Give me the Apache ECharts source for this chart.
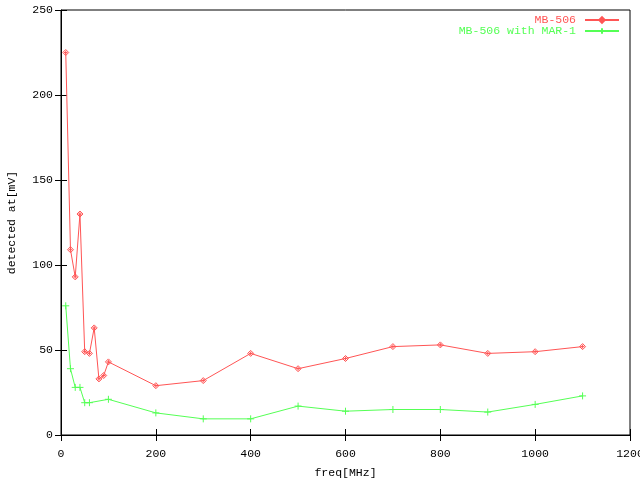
<!DOCTYPE html>
<html>
<head>
<meta charset="utf-8">
<script src="https://cdn.jsdelivr.net/npm/echarts@6/dist/echarts.min.js"></script>
<style>html,body{margin:0;padding:0;background:#fff}#c{width:640px;height:480px}</style>
</head>
<body>
<div id="c"></div>
<script>
var redFreq = [10,20,30,40,50,60,70,80,90,100,200,300,400,500,600,700,800,900,1000,1100];
var redVals = [225,109,93,130,49,48,63,33,35,43,29,32,48,39,45,52,53,48,49,52];
var greenFreq = [10,20,30,40,50,60,100,200,300,400,500,600,700,800,900,1000,1100];
var greenVals = [76,39,28,28,19,19,21,13,9.5,9.5,17,14,15,15,13.5,18,23];
var xTicks = [0,200,400,600,800,1000,1200];
var yTicks = [0,50,100,150,200,250];

var RED = '#ff5555', GREEN = '#55ff55';
var FONT = 'Liberation Mono';
function pairs(xs, ys){ return xs.map(function(x,i){ return [x, ys[i]]; }); }
var diamond = 'path://M5,0 L10,5 L5,10 L0,5 Z M5,2 L5,8 M2,5 L8,5';
var plus = 'path://M5,0 L5,10 M0,5 L10,5';
var tickLen = 6;
var chart = echarts.init(document.getElementById('c'), null, {renderer:'canvas'});
chart.setOption({
  animation: false,
  backgroundColor: '#fff',
  grid: {left: 61, right: 10, top: 10, bottom: 45, show: true, borderColor: '#000', borderWidth: 1,
         containLabel: false, outerBoundsMode: 'none'},
  legend: [{
    data: ['MB-506'], right: 20, top: 14, orient: 'vertical', align: 'right',
    itemWidth: 34, itemHeight: 7, itemGap: 0, padding: 0,
    textStyle: {color: RED, fontFamily: FONT, fontSize: 11.5, padding: [0, 4, 0, 0]}
  },{
    data: ['MB-506 with MAR-1'], right: 20, top: 25, orient: 'vertical', align: 'right',
    itemWidth: 34, itemHeight: 7, itemGap: 0, padding: 0,
    textStyle: {color: GREEN, fontFamily: FONT, fontSize: 11.5, padding: [0, 4, 0, 0]}
  }],
  xAxis: [{
    type: 'value', min: 0, max: 1200, interval: 200, position: 'bottom',
    name: 'freq[MHz]', nameLocation: 'middle', nameGap: 32,
    nameTextStyle: {color: '#000', fontFamily: FONT, fontSize: 11.5},
    axisLine: {show: true, lineStyle: {color: '#000'}},
    axisTick: {show: true, inside: true, length: tickLen, lineStyle: {color: '#000'}},
    axisLabel: {color: '#000', fontFamily: FONT, fontSize: 11.5, margin: 13, hideOverlap: false,
      formatter: function(v){ return xTicks.indexOf(v) >= 0 ? String(v) : ''; }},
    splitLine: {show: false}
  },{
    type: 'value', min: 0, max: 1200, interval: 200, position: 'top',
    axisLine: {show: false},
    axisTick: {show: true, inside: true, length: tickLen, lineStyle: {color: '#000'}},
    axisLabel: {show: false}, splitLine: {show: false}
  }],
  yAxis: [{
    type: 'value', min: 0, max: 250, interval: 50, position: 'left',
    name: 'detected at[mV]', nameLocation: 'middle', nameGap: 43,
    nameTextStyle: {color: '#000', fontFamily: FONT, fontSize: 11.5},
    axisLine: {show: true, lineStyle: {color: '#000'}},
    axisTick: {show: true, inside: true, length: tickLen, lineStyle: {color: '#000'}},
    axisLabel: {color: '#000', fontFamily: FONT, fontSize: 11.5, margin: 8,
      formatter: function(v){ return yTicks.indexOf(v) >= 0 ? String(v) : ''; }},
    splitLine: {show: false}
  },{
    type: 'value', min: 0, max: 250, interval: 50, position: 'right',
    axisLine: {show: false},
    axisTick: {show: true, inside: true, length: tickLen, lineStyle: {color: '#000'}},
    axisLabel: {show: false}, splitLine: {show: false}
  }],
  series: [{
    name: 'MB-506', type: 'line', data: pairs(redFreq, redVals),
    symbol: diamond, symbolSize: 6, showSymbol: true,
    lineStyle: {color: RED, width: 1},
    itemStyle: {color: 'rgba(0,0,0,0)', borderColor: RED, borderWidth: 1},
    emphasis: {disabled: true}
  },{
    name: 'MB-506 with MAR-1', type: 'line', data: pairs(greenFreq, greenVals),
    symbol: plus, symbolSize: 7, showSymbol: true,
    lineStyle: {color: GREEN, width: 1},
    itemStyle: {color: 'rgba(0,0,0,0)', borderColor: GREEN, borderWidth: 1},
    emphasis: {disabled: true}
  }]
});
</script>
</body>
</html>
